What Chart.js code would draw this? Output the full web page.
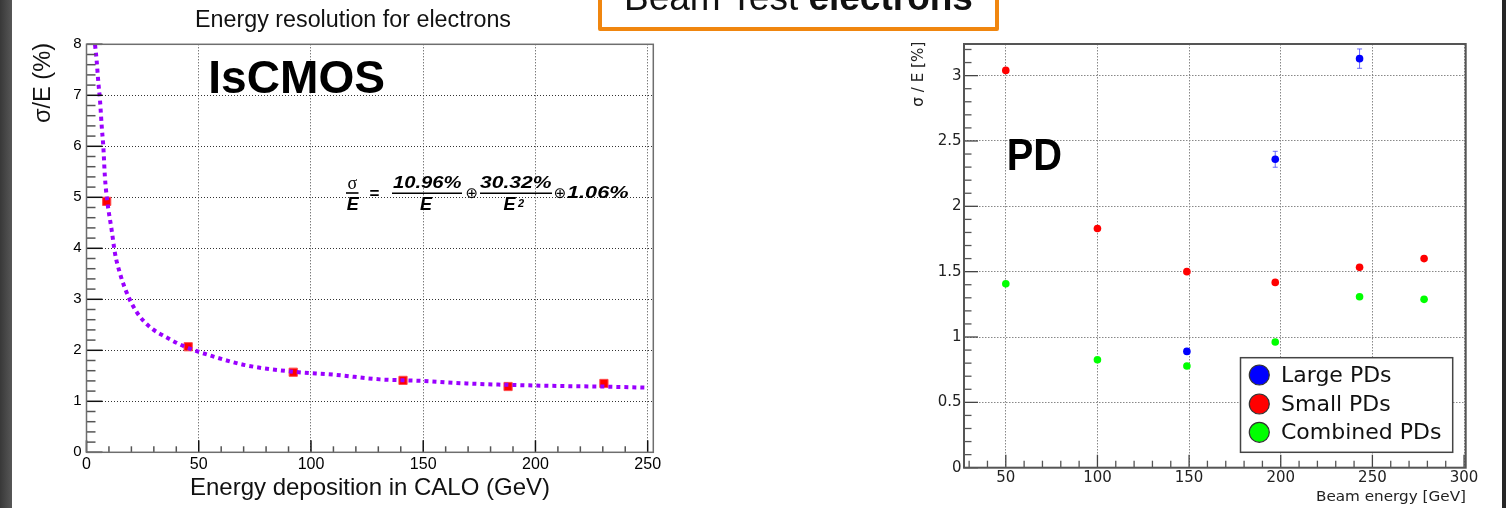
<!DOCTYPE html>
<html>
<head>
<meta charset="utf-8">
<script src="https://cdn.jsdelivr.net/npm/chart.js@4.4.1/dist/chart.umd.min.js"></script>
<style>
  html, body { margin: 0; padding: 0; background: #fff; }
  body { width: 1506px; height: 508px; position: relative; overflow: hidden; font-family: 'Liberation Sans', Arial, sans-serif; }
  #edgeL { position: absolute; left: 0; top: 0; width: 12px; height: 508px; background: linear-gradient(to right, #383838, #575757); z-index: 3; }
  #edgeR { position: absolute; left: 1502px; top: 0; width: 4px; height: 508px; background: #262626; z-index: 3; }
  #wrapL { position: absolute; left: 0; top: 0; width: 700px; height: 508px; }
  #wrapR { position: absolute; left: 860px; top: 0; width: 646px; height: 508px; }
  #banner { position: absolute; left: 598px; top: -12px; width: 401px; height: 43px; box-sizing: border-box;
            border: 4px solid #f0860f; border-radius: 2px; background: #fff; z-index: 4; }
  #bannerText { position: absolute; left: 598px; top: -20.8px; width: 401px; text-align: center; z-index: 5;
                font: 37px/37px 'Liberation Sans', Arial, sans-serif; color: #111; white-space: nowrap; }
  #bannerText b { font-weight: bold; }
</style>
</head>
<body>
<div id="edgeL"></div>
<div id="edgeR"></div>
<div id="wrapL"><canvas id="calo" width="700" height="508"></canvas></div>
<div id="wrapR"><canvas id="pd" width="646" height="508"></canvas></div>
<div id="banner"></div>
<div id="bannerText">Beam Test <b>electrons</b></div>

<script>
// ---------- IsCMOS: energy resolution vs deposited energy ----------
const caloEnergy = [9.0, 45.3, 92.1, 141.0, 187.8, 230.5];
const caloSigma  = [4.92, 2.07, 1.57, 1.41, 1.29, 1.35];

// fitted resolution curve (dotted)
const fitEnergy = [3.8, 4.5, 5.3, 6.0, 6.8, 7.5, 8.2, 9.3, 11.2, 12.7, 14.9, 17.1, 20.1, 23.8, 29.0,
                   34.9, 43.9, 55.7, 70.6, 92.1, 110.6, 130.7, 150.0, 169.3, 190.0, 210.8, 231.6, 250.1];
const fitSigma  = [7.99, 7.69, 7.24, 6.91, 6.38, 5.99, 5.40, 4.91, 4.36, 3.90, 3.51, 3.22, 2.92, 2.66, 2.43,
                   2.27, 2.07, 1.89, 1.71, 1.58, 1.52, 1.43, 1.40, 1.35, 1.32, 1.30, 1.287, 1.267];

const caloXTicks = [0, 50, 100, 150, 200, 250];
const caloYTicks = [0, 1, 2, 3, 4, 5, 6, 7, 8];

// ---------- PD: resolution vs beam energy ----------
const largeEnergy = [148.8, 197.0, 243.0];
const largeSigma  = [0.89, 2.36, 3.13];
const largeError  = [0.02, 0.061, 0.074];

const smallEnergy = [50, 100, 148.8, 197.0, 243.0, 278.2];
const smallSigma  = [3.04, 1.83, 1.50, 1.418, 1.533, 1.60];

const combEnergy  = [50, 100, 148.8, 197.0, 243.0, 278.2];
const combSigma   = [1.408, 0.826, 0.778, 0.962, 1.308, 1.288];

const pdXTicks = [50, 100, 150, 200, 250, 300];
const pdYTicks = [0, 0.5, 1, 1.5, 2, 2.5, 3];

const seriesNames = ['Large PDs', 'Small PDs', 'Combined PDs'];

// ------------------------------------------------------------------
const pts = (xs, ys) => xs.map((x, i) => ({ x, y: ys[i] }));
const isMultiple = (v, m) => Math.abs(v / m - Math.round(v / m)) < 1e-6;

function seg(ctx, x1, y1, x2, y2) {
  ctx.beginPath(); ctx.moveTo(x1, y1); ctx.lineTo(x2, y2); ctx.stroke();
}

// text drawn with optional rotation and horizontal fit to a given width
function putText(ctx, t) {
  ctx.save();
  ctx.font = t.font;
  ctx.fillStyle = t.color || '#000';
  ctx.textAlign = t.align || 'left';
  ctx.textBaseline = t.baseline || 'alphabetic';
  ctx.translate(t.x, t.y);
  if (t.rotate) ctx.rotate(t.rotate);
  if (t.width) {
    const w = ctx.measureText(t.text).width;
    ctx.scale(t.width / w, 1);
  }
  ctx.fillText(t.text, 0, 0);
  ctx.restore();
}

// ROOT-like frame with inward major/minor ticks
function rootAxes(st) {
  return {
    id: 'rootAxes',
    afterDatasetsDraw(chart) {
      const { ctx, chartArea: a } = chart;
      const xs = chart.scales.x, ys = chart.scales.y;
      ctx.save();
      ctx.lineWidth = st.tickWidth;
      for (let i = 0; ; i++) {
        const v = st.yFirst + i * st.yMinor;
        if (v > ys.max + 1e-9) break;
        const major = isMultiple(v, st.yMajor);
        const py = ys.getPixelForValue(v);
        ctx.strokeStyle = major ? st.majorColor : st.minorColor;
        seg(ctx, a.left, py, a.left + (major ? st.yMajorLen : st.yMinorLen), py);
      }
      for (let i = 0; ; i++) {
        const v = st.xFirst + i * st.xMinor;
        if (v > xs.max + 1e-9) break;
        const major = isMultiple(v, st.xMajor);
        const px = xs.getPixelForValue(v);
        ctx.strokeStyle = major ? st.majorColor : st.minorColor;
        seg(ctx, px, a.bottom, px, a.bottom - (major ? st.xMajorLen : st.xMinorLen));
      }
      ctx.strokeStyle = st.frameColor;
      ctx.lineWidth = st.frameWidth;
      ctx.strokeRect(a.left, a.top, a.right - a.left, a.bottom - a.top);
      ctx.restore();
    }
  };
}

function textLayer(items) {
  return {
    id: 'textLayer',
    afterDraw(chart) { items.forEach(t => putText(chart.ctx, t)); }
  };
}

// resolution formula with fraction bars
const formulaPlugin = {
  id: 'formula',
  afterDraw(chart) {
    const ctx = chart.ctx;
    const bi = 'italic bold 16px "Liberation Sans", Arial, sans-serif';
    const biE = 'italic bold 18px "Liberation Sans", Arial, sans-serif';
    putText(ctx, { text: 'σ', x: 352.3, y: 188.5, font: '18px "Liberation Serif", serif', align: 'center' });
    putText(ctx, { text: 'E', x: 352.8, y: 210, font: biE, align: 'center' });
    putText(ctx, { text: '=', x: 374.5, y: 199, font: 'bold 17px "Liberation Sans", Arial, sans-serif', align: 'center' });
    putText(ctx, { text: '10.96%', x: 393, y: 188.3, font: bi, width: 68.5 });
    putText(ctx, { text: 'E', x: 426, y: 210, font: biE, align: 'center' });
    putText(ctx, { text: '⊕', x: 471.7, y: 194.5, font: '15px "DejaVu Sans", sans-serif', align: 'center', baseline: 'middle' });
    putText(ctx, { text: '30.32%', x: 480, y: 188.3, font: bi, width: 71.5 });
    putText(ctx, { text: 'E', x: 509.5, y: 210, font: biE, align: 'center' });
    putText(ctx, { text: '2', x: 518, y: 207, font: 'italic bold 11px "Liberation Sans", Arial, sans-serif' });
    putText(ctx, { text: '⊕', x: 560, y: 194.5, font: '15px "DejaVu Sans", sans-serif', align: 'center', baseline: 'middle' });
    putText(ctx, { text: '1.06%', x: 567, y: 197.8, font: bi, width: 61.5 });
    ctx.save();
    ctx.strokeStyle = '#000';
    ctx.lineWidth = 1.6;
    seg(ctx, 346, 193, 358.5, 193);
    seg(ctx, 392, 193.3, 462, 193.3);
    seg(ctx, 480, 193.3, 552, 193.3);
    ctx.restore();
  }
};

// error bars for series that carry errY
const errorBars = {
  id: 'errorBars',
  beforeDatasetsDraw(chart) {
    const ys = chart.scales.y, ctx = chart.ctx;
    chart.data.datasets.forEach((ds, i) => {
      if (!ds.errY) return;
      chart.getDatasetMeta(i).data.forEach((pt, j) => {
        const v = ds.data[j].y, e = ds.errY[j];
        const y1 = ys.getPixelForValue(v + e), y2 = ys.getPixelForValue(v - e);
        ctx.save();
        ctx.strokeStyle = 'rgba(70,70,255,0.8)';
        ctx.lineWidth = 1;
        seg(ctx, pt.x, y1, pt.x, y2);
        seg(ctx, pt.x - 2.5, y1, pt.x + 2.5, y1);
        seg(ctx, pt.x - 2.5, y2, pt.x + 2.5, y2);
        ctx.restore();
      });
    });
  }
};

// boxed legend in the lower right of the PD frame
const pdLegend = {
  id: 'pdLegend',
  afterDraw(chart) {
    const ctx = chart.ctx;
    ctx.save();
    ctx.fillStyle = '#fff';
    ctx.fillRect(380.5, 357.7, 212.2, 94.6);
    ctx.strokeStyle = '#444';
    ctx.lineWidth = 1.5;
    ctx.strokeRect(380.5, 357.7, 212.2, 94.6);
    const rows = [375, 404, 432.3];
    chart.data.datasets.forEach((ds, i) => {
      ctx.beginPath();
      ctx.arc(399.3, rows[i], 10, 0, Math.PI * 2);
      ctx.fillStyle = ds.backgroundColor;
      ctx.fill();
      ctx.strokeStyle = '#333';
      ctx.lineWidth = 1.2;
      ctx.stroke();
      putText(ctx, { text: ds.label, x: 421, y: rows[i] + 1, font: '22px "DejaVu Sans", sans-serif',
                     color: '#111', baseline: 'middle' });
    });
    ctx.restore();
  }
};

const fixTicks = arr => scale => { scale.ticks = arr.map(v => ({ value: v })); };

// ---------------- left chart ----------------
new Chart(document.getElementById('calo'), {
  type: 'scatter',
  data: {
    datasets: [
      {
        label: 'fit',
        data: pts(fitEnergy, fitSigma),
        showLine: true,
        borderColor: '#9a00ff',
        borderWidth: 4,
        borderDash: [4, 4],
        borderCapStyle: 'butt',
        cubicInterpolationMode: 'monotone',
        pointRadius: 0,
        fill: false
      },
      {
        label: 'IsCMOS',
        data: pts(caloEnergy, caloSigma),
        pointStyle: 'rect',
        pointRadius: 5.8,
        backgroundColor: '#ff0000',
        borderColor: '#ff4a4a',
        borderWidth: 1
      }
    ]
  },
  options: {
    responsive: false,
    animation: false,
    devicePixelRatio: 1,
    layout: { padding: { left: 0, top: 44.3, right: 46.7, bottom: 0 } },
    plugins: { legend: { display: false }, tooltip: { enabled: false } },
    scales: {
      x: {
        type: 'linear', min: 0, max: 252.5,
        afterBuildTicks: fixTicks(caloXTicks),
        afterFit: s => { s.height = 508 - 452.3; },
        border: { display: false, dash: [1, 2] },
        grid: { drawTicks: false, lineWidth: 1,
                color: c => (c.tick && c.tick.value === 0) ? 'rgba(0,0,0,0)' : '#444' },
        ticks: { autoSkip: false, maxRotation: 0, padding: 3, color: '#000',
                 font: { family: 'Liberation Sans', size: 16 }, callback: v => String(v) }
      },
      y: {
        type: 'linear', min: 0, max: 8,
        afterBuildTicks: fixTicks(caloYTicks),
        afterFit: s => { s.width = 86.5; },
        border: { display: false, dash: [1, 2] },
        grid: { drawTicks: false, lineWidth: 1,
                color: c => (c.tick && (c.tick.value === 0 || c.tick.value === 8)) ? 'rgba(0,0,0,0)' : '#333' },
        ticks: { autoSkip: false, padding: 5, color: '#000',
                 font: { family: 'Liberation Sans', size: 15 }, callback: v => String(v) }
      }
    }
  },
  plugins: [
    rootAxes({ tickWidth: 1.5, majorColor: '#111', minorColor: '#555', frameColor: '#6e6e6e', frameWidth: 1.5,
               yFirst: 0, yMinor: 0.2, yMajor: 1, yMajorLen: 16, yMinorLen: 9,
               xFirst: 0, xMinor: 10, xMajor: 50, xMajorLen: 12, xMinorLen: 6 }),
    formulaPlugin,
    textLayer([
      { text: 'Energy resolution for electrons', x: 195, y: 27, font: '23px "Liberation Sans", Arial, sans-serif', color: '#111', width: 316 },
      { text: 'Energy deposition in CALO (GeV)', x: 190, y: 495, font: '24px "Liberation Sans", Arial, sans-serif', color: '#111', width: 360 },
      { text: 'σ/E (%)', x: 44, y: 123, rotate: -Math.PI / 2, baseline: 'middle', font: '23px "Liberation Sans", Arial, sans-serif', color: '#111', width: 80 },
      { text: 'IsCMOS', x: 208.3, y: 93.3, font: 'bold 46px "Liberation Sans", Arial, sans-serif', color: '#000', width: 176.7 }
    ])
  ]
});

// ---------------- right chart ----------------
new Chart(document.getElementById('pd'), {
  type: 'scatter',
  data: {
    datasets: [
      { label: seriesNames[0], data: pts(largeEnergy, largeSigma), errY: largeError,
        backgroundColor: '#0000ff', borderColor: '#0000ff', pointRadius: 3.8, borderWidth: 0 },
      { label: seriesNames[1], data: pts(smallEnergy, smallSigma),
        backgroundColor: '#ff0000', borderColor: '#ff0000', pointRadius: 3.8, borderWidth: 0 },
      { label: seriesNames[2], data: pts(combEnergy, combSigma),
        backgroundColor: '#00ff00', borderColor: '#00ff00', pointRadius: 3.8, borderWidth: 0 }
    ]
  },
  options: {
    responsive: false,
    animation: false,
    devicePixelRatio: 1,
    layout: { padding: { left: 0, top: 44, right: 40.3, bottom: 0 } },
    plugins: { legend: { display: false }, tooltip: { enabled: false } },
    scales: {
      x: {
        type: 'linear', min: 27.2, max: 300.9,
        afterBuildTicks: fixTicks(pdXTicks),
        afterFit: s => { s.height = 508 - 467.7; },
        border: { display: false, dash: [1.5, 1.5] },
        grid: { drawTicks: false, lineWidth: 1, color: '#888' },
        ticks: { autoSkip: false, maxRotation: 0, padding: 1.6, color: '#222',
                 font: { family: 'DejaVu Sans', size: 15 }, callback: v => String(v) }
      },
      y: {
        type: 'linear', min: 0, max: 3.242,
        afterBuildTicks: fixTicks(pdYTicks),
        afterFit: s => { s.width = 104; },
        border: { display: false, dash: [1.5, 1.5] },
        grid: { drawTicks: false, lineWidth: 1,
                color: c => (c.tick && c.tick.value === 0) ? 'rgba(0,0,0,0)' : '#888' },
        ticks: { autoSkip: false, padding: 2.5, color: '#222',
                 font: { family: 'DejaVu Sans', size: 15 }, callback: v => String(v) }
      }
    }
  },
  plugins: [
    errorBars,
    rootAxes({ tickWidth: 1.3, majorColor: '#444', minorColor: '#555', frameColor: '#555', frameWidth: 2,
               yFirst: 0, yMinor: 0.1, yMajor: 0.5, yMajorLen: 14, yMinorLen: 7.5,
               xFirst: 30, xMinor: 10, xMajor: 50, xMajorLen: 13, xMinorLen: 7 }),
    pdLegend,
    textLayer([
      { text: 'σ / E [%]', x: 59.5, y: 106.7, rotate: -Math.PI / 2, baseline: 'middle', font: '15px "DejaVu Sans", sans-serif', color: '#222', width: 65 },
      { text: 'Beam energy [GeV]', x: 606, y: 501, align: 'right', font: '14px "DejaVu Sans", sans-serif', color: '#222', width: 150 },
      { text: 'PD', x: 146.7, y: 170, font: 'bold 45px "Liberation Sans", Arial, sans-serif', color: '#000', width: 55.3 }
    ])
  ]
});
</script>
</body>
</html>
